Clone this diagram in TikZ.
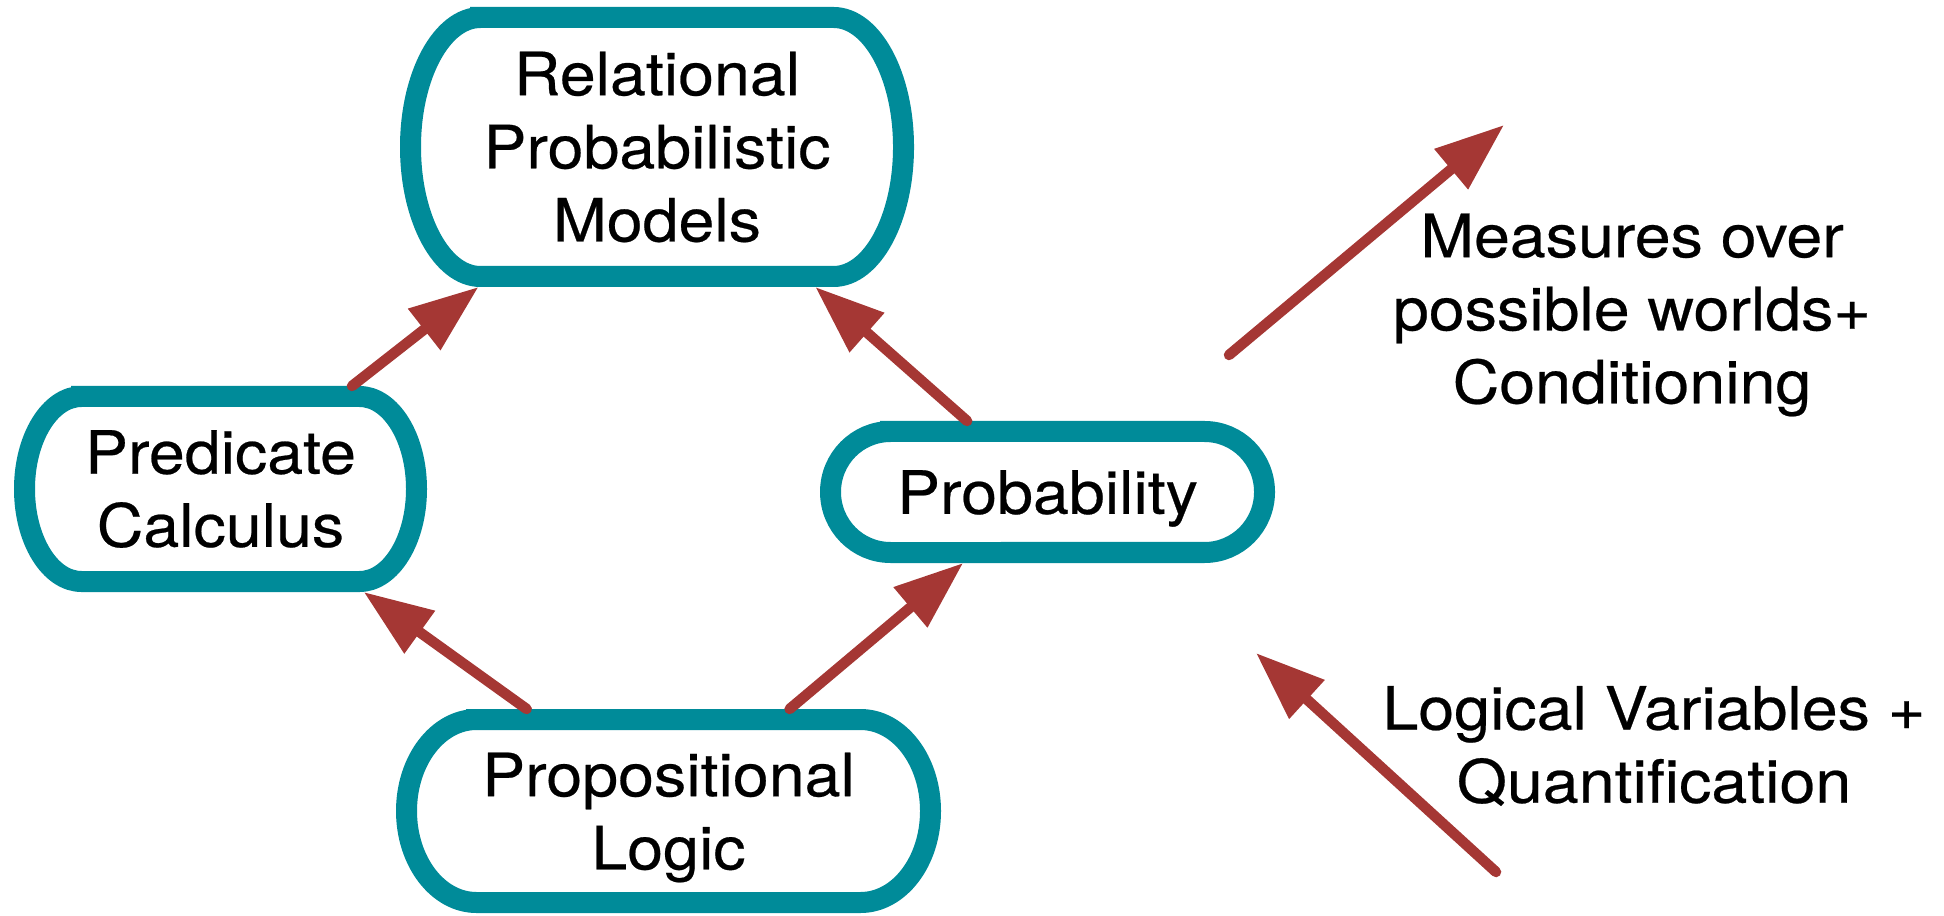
\documentclass[tikz,border=0pt]{standalone}
\usepackage{fontspec}
\setmainfont{TeX Gyre Heros}[FakeStretch=1.08, FakeBold=0.4]
\usetikzlibrary{arrows.meta, calc}

\definecolor{rimcol}{RGB}{0,139,153}
\definecolor{linkcol}{RGB}{165,55,52}

\tikzset{
  stage/.style={inner sep=0pt, outer sep=0pt, align=center,
    font=\fontsize{17}{20.8}\selectfont},
  rimline/.style={draw=rimcol, line width=0.21cm},
  link/.style={draw=linkcol, line width=0.105cm, line cap=round,
    -{Triangle[length=0.69cm, width=0.50cm]}},
  note/.style={inner sep=0pt, align=center,
    font=\fontsize{17}{20.8}\selectfont}
}

\begin{document}
\begin{tikzpicture}
\useasboundingbox (0,0) rectangle (19.44,9.15);
% The four stages, each box is the outer edge of its rim
\node [stage, minimum width=5.14cm, minimum height=2.80cm] (rel) at (6.57,7.68)
  {Relational\\Probabilistic\\Models};
\node [stage, minimum width=4.13cm, minimum height=2.06cm] (pred) at (2.205,4.26)
  {Predicate\\Calculus};
\node [stage, minimum width=4.55cm, minimum height=1.42cm, text depth=0pt] (prob)
  at (10.475,4.23) {Probability};
\node [stage, minimum width=5.45cm, minimum height=2.04cm, text depth=0pt] (prop)
  at (6.685,1.04) {Propositional\\Logic};
% Rims with half-ellipse ends (name / x radius / y radius)
\foreach \nd/\rx/\ry in {rel/0.70/1.295, pred/0.57/0.925, prob/0.60/0.605, prop/0.70/0.915}
  \draw [rimline] ([shift={(0.105+\rx,-0.105)}]\nd.north west) --
    ([shift={(-0.105-\rx,-0.105)}]\nd.north east)
    arc[start angle=90, end angle=-90, x radius=\rx, y radius=\ry] --
    ([shift={(0.105+\rx,0.105)}]\nd.south west)
    arc[start angle=270, end angle=90, x radius=\rx, y radius=\ry] -- cycle;
% Arrows between the stages
\draw [link] (pred) -- (rel);
\draw [link] (prob) -- (rel);
\draw [link] (prop) -- (pred);
\draw [link] (prop) -- (prob);
% Free arrows with their notes
\coordinate (mfoot) at (12.29,5.60);
\coordinate (mhead) at (15.04,7.90);
\draw [link] (mfoot) -- (mhead);
\node [note] (meas) at (16.32,6.00) {Measures over\\possible worlds+\\Conditioning};
\coordinate (lfoot) at (14.96,0.43);
\coordinate (lhead) at (12.56,2.62);
\draw [link] (lfoot) -- (lhead);
\node [note] (logv) at (16.54,1.69) {Logical Variables +\\Quantification};
\end{tikzpicture}
\end{document}
